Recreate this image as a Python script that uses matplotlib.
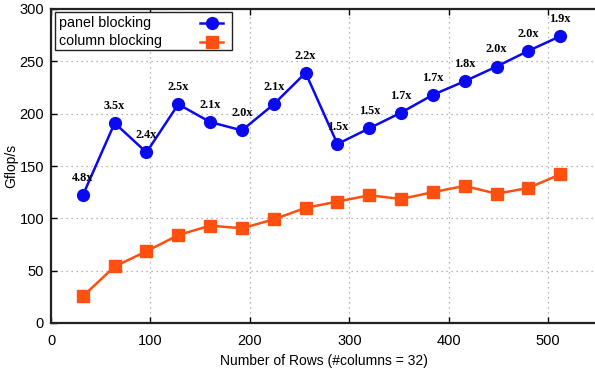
import matplotlib
matplotlib.use("Agg")
import matplotlib.pyplot as plt
from matplotlib.patches import Rectangle
from matplotlib.lines import Line2D

rows = [32, 64, 96, 128, 160, 192, 224, 256, 288, 320, 352, 384, 416, 448, 480, 512]
panel_blocking = [122, 191, 163, 209, 192, 184, 209, 239, 171, 186, 201, 218, 231, 245, 260, 274]
column_blocking = [25.5, 54, 68.5, 84, 93, 90.5, 99, 110, 116, 122, 118.5, 125, 131, 123.5, 129, 142]
speedup_labels = ["4.8x", "3.5x", "2.4x", "2.5x", "2.1x", "2.0x", "2.1x", "2.2x",
                  "1.5x", "1.5x", "1.7x", "1.7x", "1.8x", "2.0x", "2.0x", "1.9x"]
series_names = ["panel blocking", "column blocking"]
x_ticks = [0, 100, 200, 300, 400, 500]
y_ticks = [0, 50, 100, 150, 200, 250, 300]

plt.rcParams["font.family"] = ["Liberation Sans", "DejaVu Sans"]

W, H = 595, 371
fig = plt.figure(figsize=(W / 100, H / 100), dpi=100)
left, right, top, bottom = 51, 596, 9, 323
ax = fig.add_axes([left / W, (H - bottom) / H, (right - left) / W, (bottom - top) / H])

blue, orange = "#0a0af0", "#ff5010"
styles = [dict(color=blue, marker="o", ms=8.5), dict(color=orange, marker="s", ms=8)]

ax.plot(rows, panel_blocking, lw=1.8, zorder=3, **styles[0])
ax.plot(rows, column_blocking, lw=1.8, zorder=3, **styles[1])

for x, y, s in zip(rows, panel_blocking, speedup_labels):
    ax.annotate(s, (x, y), xytext=(0, 8), textcoords="offset points",
                ha="center", va="bottom", fontsize=8.8, fontweight="bold",
                family=["Liberation Serif", "DejaVu Serif"])

ax.set_xlim(0, 548)
ax.set_ylim(0, 300)
ax.set_xticks(x_ticks)
ax.set_yticks(y_ticks)
ax.grid(True, color="#a0a0a0", linestyle=(0, (1, 3)), linewidth=0.9)
ax.tick_params(direction="in", length=4, width=1, labelsize=10.5, top=True, right=False)
ax.tick_params(axis="x", pad=8)
ax.tick_params(axis="y", pad=5)

for side in ["left", "bottom", "top"]:
    ax.spines[side].set_linewidth(1.6)
    ax.spines[side].set_color("#222222")
ax.spines["right"].set_visible(False)

ax.set_xlabel("Number of Rows (#columns = 32)", fontsize=10, labelpad=4)
ax.set_ylabel("Gflop/s", fontsize=10)
ax.yaxis.set_label_coords((18 - left) / (right - left), 0.5)

# Key box: labels on the left, line samples on the right
def to_axes(px, py):
    return ((px - left) / (right - left), (bottom - py) / (bottom - top))

x0, y0 = to_axes(55, 50)
x1, y1 = to_axes(232, 12)
ax.add_patch(Rectangle((x0, y0), x1 - x0, y1 - y0, transform=ax.transAxes,
                       facecolor="white", edgecolor="#222222", lw=1.0, zorder=5))
for i, name in enumerate(series_names):
    py = 22.5 + i * 19
    tx, ty = to_axes(59, py)
    ax.text(tx, ty, name, transform=ax.transAxes, ha="left", va="center",
            fontsize=10.3, zorder=6)
    lx0, ly = to_axes(200, py)
    lx1, _ = to_axes(223, py)
    mx, _ = to_axes(211.5, py)
    ax.add_line(Line2D([lx0, lx1], [ly, ly], transform=ax.transAxes, lw=1.8,
                       color=styles[i]["color"], zorder=6))
    ax.add_line(Line2D([mx], [ly], transform=ax.transAxes, lw=0, zorder=6, **styles[i]))

fig.savefig("out.png", dpi=100)
